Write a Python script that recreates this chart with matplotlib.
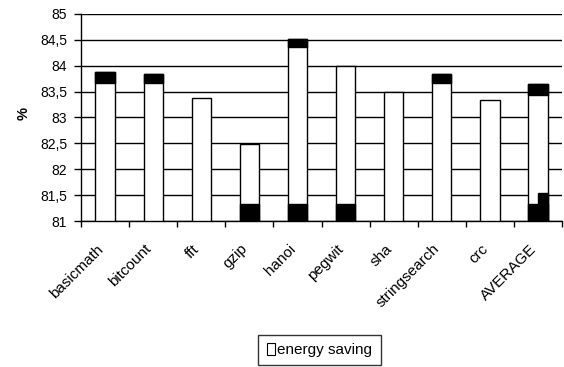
import matplotlib.pyplot as plt
import matplotlib.transforms as mtransforms
import numpy as np
from matplotlib.patches import Patch

plt.rcParams["font.family"] = ["Liberation Sans", "DejaVu Sans"]

benchmarks = ["basicmath", "bitcount", "fft", "gzip", "hanoi", "pegwit",
              "sha", "stringsearch", "crc", "AVERAGE"]
saving = [83.87, 83.85, 83.37, 82.49, 84.52, 84.0, 83.5, 83.85, 83.34, 83.65]

# dark cap at the top of some bars (lower edge of the cap)
cap_low = [83.66, 83.66, None, None, 84.37, None, None, 83.66, None, 83.43]
# dark block at the foot of some bars (upper edge of the block)
foot_top = [None, None, None, 81.33, 81.33, 81.33, None, None, None, 81.33]
avg_foot_step = 81.55

ymin, ymax = 81, 85
yticks = np.arange(81, 85.01, 0.5)

fig = plt.figure(figsize=(5.64, 3.67), dpi=100)
ax = fig.add_axes([0.1436, 0.3978, 0.853, 0.5641])

x = np.arange(len(benchmarks))
w = 0.4
ax.bar(x, np.array(saving) - ymin, bottom=ymin, width=w, color="white",
       edgecolor="black", linewidth=1.0, zorder=3)

for i, (top, lo) in enumerate(zip(saving, cap_low)):
    if lo is not None:
        ax.bar(x[i], top - lo, bottom=lo, width=w, color="black",
               edgecolor="black", linewidth=1.0, zorder=4)
for i, ft in enumerate(foot_top):
    if ft is not None:
        ax.bar(x[i], ft - ymin, bottom=ymin, width=w, color="black",
               edgecolor="black", linewidth=1.0, zorder=4)
# stepped foot on the average bar
ax.bar(x[-1] + w / 4, avg_foot_step - ymin, bottom=ymin, width=w / 2,
       color="black", edgecolor="black", linewidth=1.0, zorder=4)

ax.set_xlim(-0.5, len(benchmarks) - 0.5)
ax.set_ylim(ymin, ymax)
ax.set_yticks(yticks)
ax.set_yticklabels([f"{v:g}".replace(".", ",") for v in yticks], fontsize=10)
ax.yaxis.grid(True, color="black", linewidth=1.0)
ax.set_axisbelow(True)

ax.set_xticks(x)
ax.set_xticklabels(benchmarks, rotation=45, ha="right", rotation_mode="anchor",
                   fontsize=11)
ax.tick_params(axis="x", which="major", length=0, pad=15)
shift = mtransforms.ScaledTranslation(-0.09, 0, fig.dpi_scale_trans)
for lbl in ax.get_xticklabels():
    lbl.set_transform(lbl.get_transform() + shift)
ax.set_xticks(np.arange(-0.5, len(benchmarks)), minor=True)
ax.tick_params(axis="x", which="minor", length=4, width=1, direction="out")
ax.tick_params(axis="y", length=5, width=1, direction="out", pad=5)

for side in ("top", "right"):
    ax.spines[side].set_visible(False)
for side in ("left", "bottom"):
    ax.spines[side].set_linewidth(1.0)

ax.set_ylabel("%", fontsize=10.5, fontweight="bold")
ax.yaxis.set_label_coords(-0.105, 0.519)

handle = Patch(facecolor="white", edgecolor="black", linewidth=0.8)
fig.legend([handle], ["energy saving"], loc="center",
           bbox_to_anchor=(0.5665, 0.0463), fontsize=11, frameon=True,
           fancybox=False, edgecolor="black", handlelength=0.55,
           handleheight=0.8, handletextpad=0.15, borderpad=0.55,
           borderaxespad=0)

fig.savefig("out.png", dpi=100)
